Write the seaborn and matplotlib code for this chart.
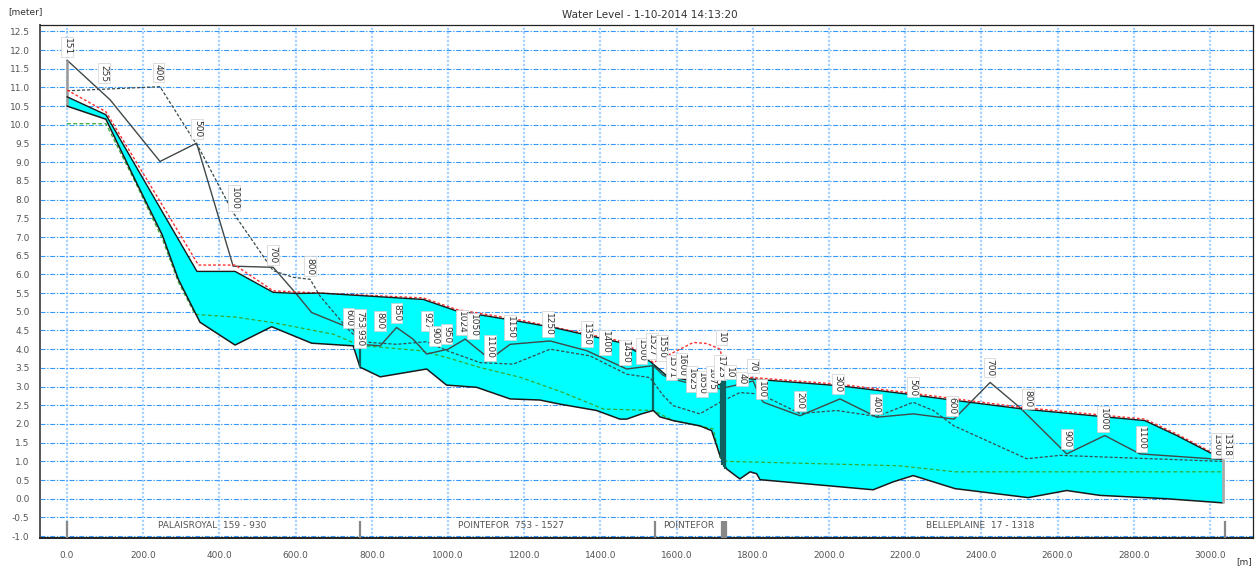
import numpy as np
import pandas as pd
import matplotlib
matplotlib.use("Agg")
import matplotlib.pyplot as plt
import matplotlib.ticker as mticker
import seaborn as sns

# ---------------------------------------------------------------
# Dati letti dal profilo longitudinale (chainage [m], quota [m])
# ---------------------------------------------------------------
bed_x = [0, 102, 180, 250, 292, 336, 349, 441, 537, 642, 751, 769, 822, 944, 996, 1075,
         1163, 1241, 1294, 1390, 1451, 1469, 1508, 1539, 1556, 1591, 1661, 1692, 1714,
         1731, 1766, 1793, 1810, 1819, 2116, 2168, 2221, 2331, 2523, 2624, 2711, 2886, 3034]
bed_y = [10.5, 10.15, 8.5, 7.05, 5.87, 4.98, 4.72, 4.11, 4.6, 4.16, 4.09, 3.52, 3.26, 3.47,
         3.04, 2.98, 2.67, 2.64, 2.53, 2.36, 2.13, 2.13, 2.27, 2.36, 2.19, 2.09, 1.95, 1.82,
         1.15, 0.8, 0.53, 0.72, 0.67, 0.51, 0.24, 0.45, 0.62, 0.27, 0.03, 0.22, 0.09, 0.0, -0.11]

water_x = [0, 102, 341, 441, 541, 603, 664, 935, 1023, 1189, 1276, 1451, 1499, 1539, 1574,
           1626, 1714, 1731, 1801, 2029, 2204, 2300, 2509, 2693, 2829, 2913, 3031]
water_y = [10.75, 10.27, 6.08, 6.08, 5.52, 5.49, 5.5, 5.33, 5.02, 4.74, 4.58, 4.18, 3.91, 3.6,
           3.29, 3.18, 3.05, 3.25, 3.2, 3.02, 2.8, 2.67, 2.4, 2.22, 2.09, 1.69, 1.07]

wmax_x = [0, 102, 345, 441, 541, 603, 935, 1023, 1189, 1451, 1499, 1539, 1574, 1644, 1680,
          1714, 1722, 1731, 1801, 2029, 2204, 2509, 2693, 2829, 2913, 3031]
wmax_y = [10.93, 10.35, 6.25, 6.25, 5.56, 5.53, 5.37, 5.06, 4.78, 4.22, 3.95, 3.64, 3.82, 4.18,
          4.15, 4.0, 3.65, 3.3, 3.24, 3.06, 2.84, 2.44, 2.26, 2.13, 1.73, 1.1]

bank_x = [0, 113, 244, 340, 436, 541, 600, 642, 751, 769, 822, 865, 908, 944, 1000, 1045,
          1110, 1163, 1268, 1364, 1469, 1539, 1565, 1591, 1626, 1661, 1688, 1714, 1740, 1801,
          1819, 1828, 1924, 2029, 2126, 2221, 2328, 2423, 2501, 2606, 2624, 2724, 2816, 3031]
bank_y = [11.73, 10.67, 9.02, 9.51, 6.22, 6.19, 5.5, 4.98, 4.53, 4.13, 4.09, 4.58, 4.27, 3.87,
          4.0, 4.27, 3.73, 4.13, 4.22, 3.96, 3.47, 3.56, 3.3, 3.2, 3.11, 2.84, 2.93, 2.95, 3.0,
          3.15, 2.71, 2.58, 2.22, 2.67, 2.18, 2.27, 2.13, 3.11, 2.44, 1.38, 1.2, 1.69, 1.2, 1.05]

dash_x = [0, 244, 349, 436, 541, 594, 638, 664, 738, 760, 795, 865, 944, 1000, 1084, 1171,
          1268, 1373, 1469, 1530, 1565, 1591, 1661, 1714, 1766, 1819, 1924, 2020, 2126, 2221,
          2274, 2328, 2519, 2606, 3031]
dash_y = [10.91, 11.02, 9.33, 7.65, 6.1, 5.92, 5.87, 5.42, 4.53, 4.31, 4.18, 4.13, 4.2, 3.95,
          3.64, 3.6, 4.0, 3.82, 3.33, 3.24, 2.76, 2.49, 2.27, 2.58, 2.84, 2.8, 2.28, 2.36, 2.2,
          2.58, 2.36, 1.95, 1.07, 1.16, 1.0]

green_x = [0, 102, 180, 250, 292, 336, 441, 541, 699, 769, 927, 996, 1084, 1189, 1300, 1408,
           1539, 1591, 1696, 1714, 1731, 2116, 2186, 2331, 3034]
green_y = [10.03, 10.03, 8.45, 6.95, 5.8, 4.93, 4.86, 4.71, 4.4, 4.1, 3.96, 3.78, 3.51, 3.25,
           2.85, 2.4, 2.36, 2.09, 1.87, 1.1, 1.0, 0.9, 0.88, 0.72, 0.72]

# etichette delle sezioni (chainage locale)
lab_x = [0, 97, 240, 342, 439, 541, 638, 739, 769, 769, 822, 865, 944, 966, 996, 1036, 1066,
         1110, 1163, 1263, 1364, 1412, 1465, 1508, 1535, 1561, 1587, 1613, 1639, 1666, 1692,
         1714, 1718, 1740, 1771, 1801, 1823, 1924, 2024, 2124, 2221, 2322, 2421, 2523, 2624,
         2720, 2820, 3017, 3044]
lab_y = [12.08, 11.38, 11.4, 9.9, 8.04, 6.53, 6.22, 4.84, 4.8, 4.31, 4.76, 4.98, 4.76, 4.36,
         4.4, 4.71, 4.62, 4.04, 4.58, 4.67, 4.4, 4.18, 3.91, 3.96, 4.09, 4.04, 3.51, 3.56, 3.2,
         3.07, 3.2, 3.51, 4.31, 3.38, 3.2, 3.56, 2.93, 2.62, 3.07, 2.53, 2.98, 2.49, 3.51, 2.67,
         1.6, 2.13, 1.6, 1.42, 1.42]
lab_txt = ["151", "255", "400", "500", "1000", "700", "800", "600", "753", "930", "800", "850",
           "927", "900", "950", "1024", "1050", "1100", "1150", "1250", "1350", "1400", "1450",
           "1500", "1527", "1550", "1571", "1600", "1625", "1650", "1675", "1723", "10", "10",
           "40", "70", "100", "200", "300", "400", "500", "600", "700", "800", "900", "1000",
           "1100", "1300", "1318"]

# rami (branch) sotto il profilo
branch_x = [239, 1026, 1564, 2255]
branch_txt = ["PALAISROYAL  159 - 930", "POINTEFOR  753 - 1527", "POINTEFOR",
              "BELLEPLAINE  17 - 1318"]
branch_mark_x = [0, 769, 1543, 1719, 1724, 1729, 3039]

# strutture (linee verticali nel profilo)
struct_x = [769, 1539, 1716, 1720, 1724, 1728]
struct_lo = [3.52, 2.36, 1.1, 0.9, 0.85, 0.8]
struct_hi = [4.13, 3.6, 3.1, 3.2, 3.25, 3.25]

# ---------------------------------------------------------------
# Grafico
# ---------------------------------------------------------------
sns.set_style("white")
plt.rcParams["font.family"] = ["DejaVu Sans"]

fig = plt.figure(figsize=(12.56, 5.70), dpi=100)
ax = fig.add_axes([40 / 1256, 32 / 570, (1253 - 40) / 1256, (545 - 32) / 570])

# area bagnata (acqua sopra il fondo)
poly_x = water_x + bed_x[::-1]
poly_y = water_y + bed_y[::-1]
ax.fill(poly_x, poly_y, color="#00ffff", lw=0, zorder=2)

sns.lineplot(x=green_x, y=green_y, ax=ax, estimator=None, sort=False, color="#33aa33",
             lw=0.9, linestyle=(0, (3, 2)), zorder=3)
sns.lineplot(x=dash_x, y=dash_y, ax=ax, estimator=None, sort=False, color="#3a4a4a",
             lw=0.9, linestyle=(0, (2.5, 1.5)), zorder=3)
sns.lineplot(x=bank_x, y=bank_y, ax=ax, estimator=None, sort=False, color="#404848",
             lw=1.0, zorder=3)
sns.lineplot(x=wmax_x, y=wmax_y, ax=ax, estimator=None, sort=False, color="#ff3030",
             lw=1.0, linestyle=(0, (2, 1.5)), zorder=4)
sns.lineplot(x=water_x, y=water_y, ax=ax, estimator=None, sort=False, color="#1a1a1a",
             lw=1.0, zorder=4)
sns.lineplot(x=bed_x, y=bed_y, ax=ax, estimator=None, sort=False, color="#1a1a1a",
             lw=1.1, zorder=4)

ax.vlines(struct_x, struct_lo, struct_hi, colors="#106060", lw=1.6, zorder=4)
ax.vlines([bank_x[0]], [bed_y[0]], [bank_y[0]], colors="#999999", lw=1.8, zorder=3)
ax.vlines([bed_x[-1]], [bed_y[-1]], [water_y[-1]], colors="#aaaaaa", lw=2.0, zorder=4)
ax.vlines(branch_mark_x, -1.05, -0.6, colors="#888888", lw=1.6, zorder=4)

for x, y, t in zip(lab_x, lab_y, lab_txt):
    ax.text(x, y, t, rotation=270, ha="center", va="center", fontsize=6.5, color="#333333",
            zorder=6, bbox=dict(boxstyle="square,pad=0.15", fc="white", ec="#d0d0d0", lw=0.5))

for x, t in zip(branch_x, branch_txt):
    ax.text(x, -0.72, t, ha="left", va="center", fontsize=6.5, color="#555555", zorder=6)

# assi e griglia
ax.set_xlim(-71, 3113)
ax.set_ylim(-1.05, 12.67)
ax.xaxis.set_major_locator(mticker.MultipleLocator(200))
ax.xaxis.set_minor_locator(mticker.MultipleLocator(200 / 7))
ax.yaxis.set_major_locator(mticker.MultipleLocator(0.5))
ax.yaxis.set_minor_locator(mticker.MultipleLocator(0.1))
ax.xaxis.set_major_formatter(mticker.FormatStrFormatter("%.1f"))
ax.yaxis.set_major_formatter(mticker.FormatStrFormatter("%.1f"))
ax.tick_params(axis="both", which="major", labelsize=6.5, labelcolor="#555555",
               length=4, color="#555555", direction="out")
ax.tick_params(axis="both", which="minor", length=2, color="#555555", direction="out")
ax.tick_params(axis="x", pad=5)

ax.yaxis.grid(True, which="major", color="#3399ff", lw=0.8,
              linestyle=(0, (4.5, 1.5, 1.2, 1.5)))
ax.xaxis.grid(True, which="major", color="#a8d4ff", lw=1.6, linestyle=(0, (1, 0.8)))
ax.set_axisbelow(True)
for s in ax.spines.values():
    s.set_color("#222222")
    s.set_linewidth(0.9)
ax.spines["left"].set_color("#555555")
ax.spines["left"].set_linewidth(1.4)
ax.spines["bottom"].set_linewidth(1.4)

ax.set_xlabel("")
ax.set_ylabel("")
fig.text(650 / 1256, 1 - 15 / 570, "Water Level - 1-10-2014 14:13:20", ha="center",
         va="center", fontsize=7.5, color="#333333")
fig.text(8 / 1256, 1 - 12 / 570, "[meter]", ha="left", va="center", fontsize=6.5,
         color="#333333")
fig.text(1236 / 1256, 1 - 562 / 570, "[m]", ha="left", va="center", fontsize=6.5,
         color="#333333")

fig.savefig("out.png", dpi=100)
